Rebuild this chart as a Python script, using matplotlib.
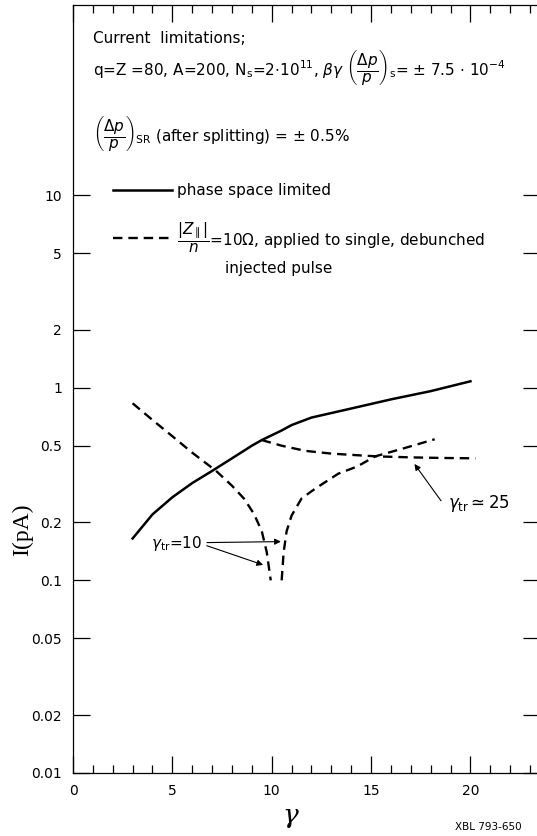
import matplotlib
matplotlib.use('Agg')
import matplotlib.pyplot as plt
from matplotlib.lines import Line2D
from matplotlib.ticker import FixedLocator, MultipleLocator, NullFormatter, FixedFormatter

plt.rcParams['font.family'] = ['Liberation Sans Narrow', 'DejaVu Sans']
plt.rcParams['mathtext.fontset'] = 'custom'
plt.rcParams['mathtext.rm'] = 'Liberation Sans Narrow'
plt.rcParams['mathtext.it'] = 'Liberation Sans Narrow:italic'
plt.rcParams['mathtext.bf'] = 'Liberation Sans Narrow:bold'

# phase space limited current vs gamma
gamma_ps = [3.0, 4.0, 5.0, 6.0, 7.0, 8.0, 9.0, 9.5, 10.5, 11.0, 12.0, 14.0, 16.0, 18.0, 20.0]
i_ps = [0.165, 0.22, 0.27, 0.32, 0.37, 0.43, 0.50, 0.535, 0.60, 0.64, 0.70, 0.78, 0.87, 0.96, 1.08]

# |Z|/n = 10 ohm, gamma_tr = 10, below transition
gamma_lo = [3.0, 4.0, 5.0, 6.0, 7.2, 8.0, 8.6, 9.1, 9.5, 9.75, 9.95]
i_lo = [0.83, 0.68, 0.56, 0.46, 0.37, 0.31, 0.266, 0.222, 0.18, 0.14, 0.10]

# |Z|/n = 10 ohm, gamma_tr = 10, above transition
gamma_hi = [10.5, 10.6, 10.75, 11.0, 11.5, 12.2, 13.35, 14.3, 15.2, 16.5, 18.2]
i_hi = [0.10, 0.14, 0.18, 0.217, 0.266, 0.30, 0.358, 0.39, 0.44, 0.48, 0.54]

# |Z|/n = 10 ohm, gamma_tr ~ 25
gamma_25 = [9.5, 10.5, 11.7, 13.0, 14.5, 15.35, 17.0, 18.5, 20.25]
i_25 = [0.535, 0.50, 0.47, 0.455, 0.445, 0.44, 0.435, 0.432, 0.43]

yticks = [0.01, 0.02, 0.05, 0.1, 0.2, 0.5, 1, 2, 5, 10]
ytick_labels = ['0.01', '0.02', '0.05', '0.1', '0.2', '0.5', '1', '2', '5', '10']

W, H = 537, 836
fig = plt.figure(figsize=(W / 100, H / 100), dpi=100)
ax = fig.add_axes([73 / W, 1 - 773 / H, 467 / W, 768 / H])

dash = (0, (4, 2.5))
ax.plot(gamma_ps, i_ps, color='black', lw=1.8)
ax.plot(gamma_lo, i_lo, color='black', lw=1.7, ls=dash)
ax.plot(gamma_hi, i_hi, color='black', lw=1.7, ls=dash)
ax.plot(gamma_25, i_25, color='black', lw=1.7, ls=dash)

ax.set_yscale('log')
ax.set_xlim(0, 23.5)
ax.set_ylim(0.01, 97)

ax.xaxis.set_major_locator(MultipleLocator(5))
ax.xaxis.set_minor_locator(MultipleLocator(1))
ax.yaxis.set_major_locator(FixedLocator(yticks))
ax.yaxis.set_major_formatter(FixedFormatter(ytick_labels))
ax.yaxis.set_minor_locator(FixedLocator([]))
ax.yaxis.set_minor_formatter(NullFormatter())
ax.tick_params(which='both', direction='in', top=True, right=True,
               labelsize=10, width=0.9)
ax.tick_params(which='major', length=12, pad=8)
ax.tick_params(which='minor', length=6)
for s in ax.spines.values():
    s.set_linewidth(0.9)

# annotations for transition energies
ax.text(3.95, 0.155, r'$\gamma_{\rm tr}$=10', fontsize=11, va='center', ha='left')
arr = dict(arrowstyle='-|>', color='black', lw=0.8, mutation_scale=9)
ax.annotate('', xy=(10.6, 0.159), xytext=(6.6, 0.157), arrowprops=arr)
ax.annotate('', xy=(9.7, 0.119), xytext=(6.6, 0.153), arrowprops=arr)
ax.text(18.85, 0.25, r'$\gamma_{\rm tr}\simeq$25', fontsize=12, va='center', ha='left')
ax.annotate('', xy=(17.1, 0.413), xytext=(18.6, 0.252), arrowprops=arr)

# header block
fs = 11
fig.text(93 / W, 1 - 43 / H, 'Current  limitations;', fontsize=fs, va='baseline')
fig.text(93 / W, 1 - 75 / H,
         r'q=Z =80, A=200, N$_{\rm s}$=2$\cdot$10$^{11}$, $\beta\gamma$ '
         r'$\left(\dfrac{\Delta p}{p}\right)_{\rm s}$= $\pm$ 7.5 $\cdot$ 10$^{-4}$',
         fontsize=fs, va='baseline')
fig.text(93 / W, 1 - 141 / H,
         r'$\left(\dfrac{\Delta p}{p}\right)_{\rm SR}$ (after splitting) = $\pm$ 0.5%',
         fontsize=fs, va='baseline')

# legend
fig.add_artist(Line2D([113 / W, 172 / W], [1 - 190 / H, 1 - 190 / H],
                      color='black', lw=1.8))
fig.text(177 / W, 1 - 195 / H, 'phase space limited', fontsize=fs, va='baseline')
fig.add_artist(Line2D([113 / W, 172 / W], [1 - 238 / H, 1 - 238 / H],
                      color='black', lw=1.7, ls=dash))
fig.text(177 / W, 1 - 246 / H,
         r'$\dfrac{|Z_{\parallel}|}{n}$=10$\Omega$, applied to single, debunched',
         fontsize=fs, va='baseline')
fig.text(225 / W, 1 - 273 / H, 'injected pulse', fontsize=fs, va='baseline')

# axis labels
fig.text(23 / W, 1 - 530 / H, 'I(pA)', family='Liberation Serif', fontsize=17,
         rotation=90, va='center', ha='center')
fig.text(290 / W, 1 - 815 / H, 'γ', family='DejaVu Serif', style='italic',
         fontsize=19, va='center', ha='center')
fig.text(455 / W, 1 - 830 / H, 'XBL 793-650', family='DejaVu Sans', fontsize=7.5,
         va='baseline')

fig.savefig('out.png', dpi=100)
